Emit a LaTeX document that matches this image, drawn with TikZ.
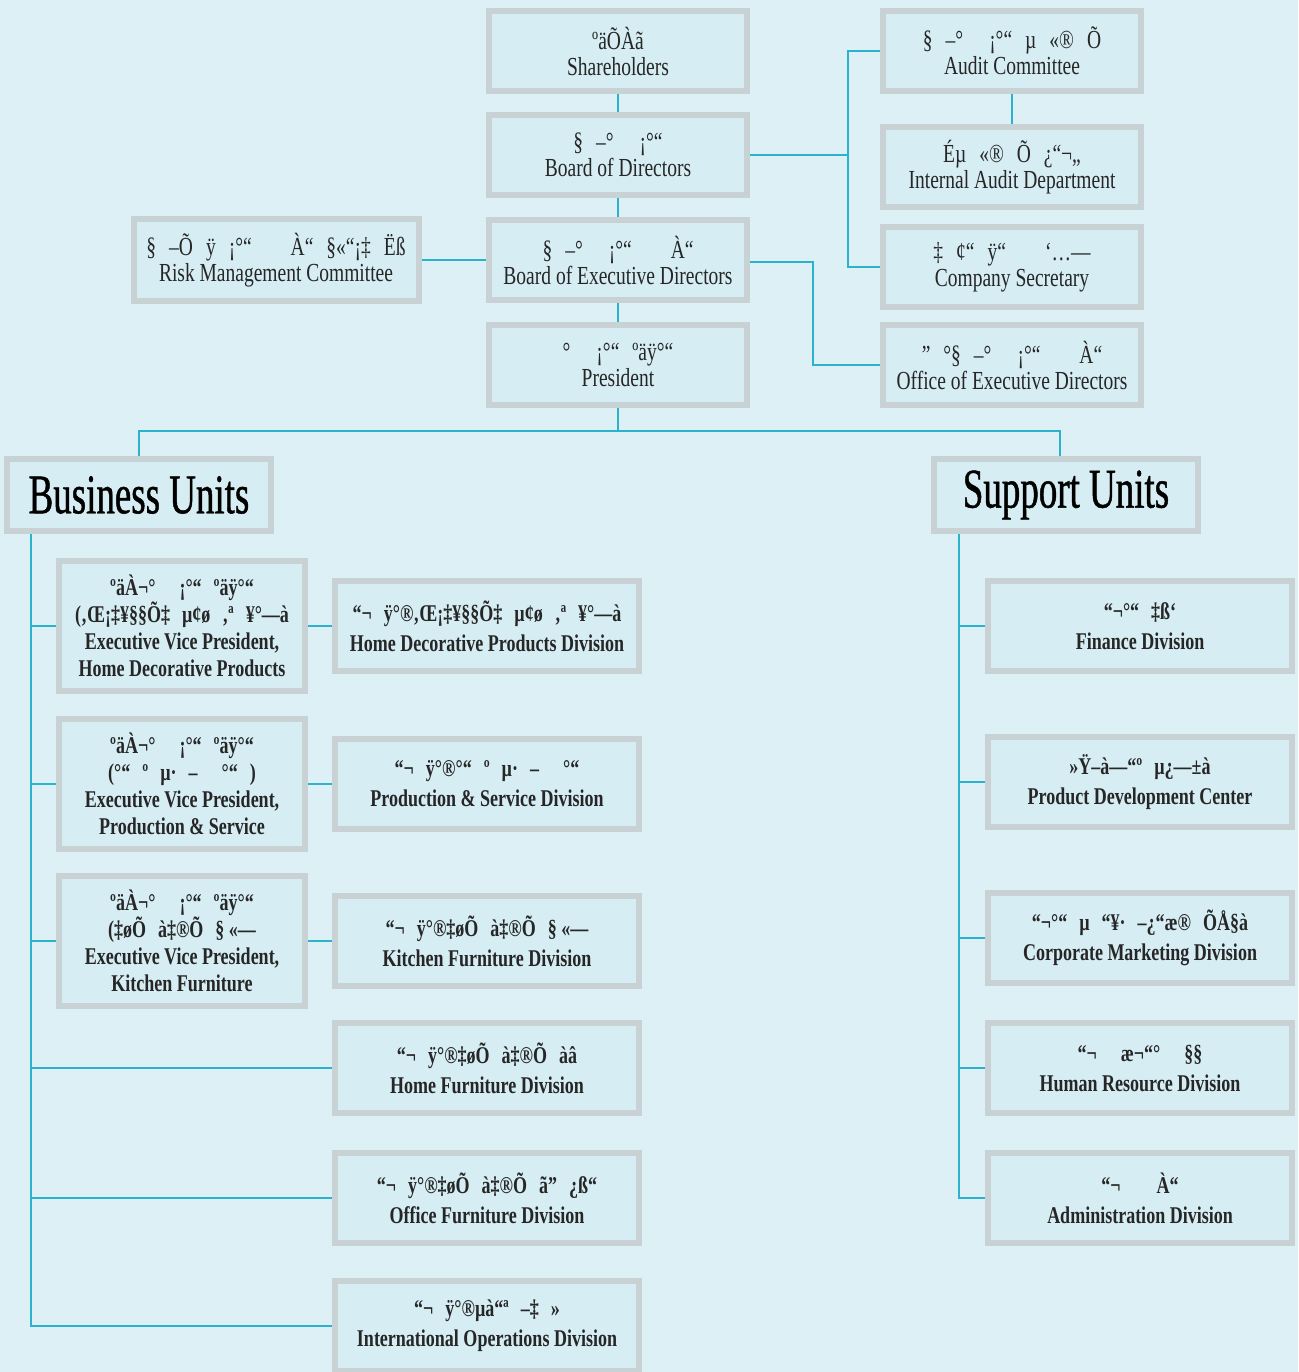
\documentclass[tikz,border=0pt]{standalone}
\usepackage{fontspec}
\setmainfont[FakeStretch=0.75]{Liberation Serif}
\newfontfamily\headfont[FakeStretch=0.66,FakeBold=0.8]{Liberation Serif}
\definecolor{bgc}{HTML}{DDF0F5}
\definecolor{boxfill}{HTML}{D5EDF3}
\definecolor{boxedge}{HTML}{C8D2D5}
\definecolor{connc}{HTML}{2BB3CD}
\definecolor{txtc}{HTML}{262626}
\newcommand\gp{\hspace{0.5em}}
\tikzset{
  box/.style={draw=boxedge, line width=6pt, fill=boxfill, align=center, inner sep=0pt, outer sep=3pt, text=txtc, font=\fontsize{26}{26}\selectfont},
  topbox/.style={box, minimum width=258, minimum height=80},
  riskbox/.style={box, minimum width=285, minimum height=81},
  evpbox/.style={box, minimum width=246, minimum height=130, font=\bfseries\fontsize{24}{27}\selectfont},
  divbox/.style={box, minimum width=304, minimum height=90, font=\bfseries\fontsize{24}{30}\selectfont},
  unitbox/.style={box, minimum width=264, minimum height=72, font=\headfont\fontsize{56}{60}\selectfont, text=black},
  conn/.style={draw=connc, line width=1.5pt},
}
\begin{document}
\begin{tikzpicture}[x=1pt,y=-1pt]
\fill[bgc] (0,0) rectangle (1298,1372);
\useasboundingbox (0,0) rectangle (1298,1372);

% top column
\node[topbox] (sh) at (618,51) {ºäÕÀã\\Shareholders};
\node[topbox] (bod) at (618,155) {§\gp –°\gp\gp ¡°“\\Board of Directors};
\node[topbox] (bed) at (618,260) {§\gp –°\gp\gp ¡°“\gp\gp\gp À“\\Board of Executive Directors};
\node[topbox] (pres) at (618,365) {°\gp\gp ¡°“\gp ºäÿ°“\\President};
\node[riskbox] (risk) at (276,260) {§\gp –Õ\gp ÿ\gp ¡°“\gp\gp\gp À“\gp §«“¡‡\gp Ëß\\Risk Management Committee};

% right column
\node[topbox] (ac) at (1012,51) {§\gp –°\gp\gp ¡°“\gp µ\gp «®\gp Õ\\Audit Committee};
\node[topbox] (iad) at (1012,167) {Éµ\gp «®\gp Õ\gp ¿“¬„\\Internal Audit Department};
\node[topbox] (cs) at (1012,267) {‡\gp ¢“\gp ÿ“\gp\gp\gp ‘…—\\Company Secretary};
\node[topbox] (ofe) at (1012,365) {”\gp °§\gp –°\gp\gp ¡°“\gp\gp\gp À“\\Office of Executive Directors};

% unit headers
\node[unitbox] (bu) at (139,495) {Business Units};
\node[unitbox] (su) at (1066,495) {Support Units};

% business units
\node[evpbox] (evp1) at (182,626) {ºäÀ¬°\gp\gp ¡°“\gp ºäÿ°“\\(‚Œ¡‡¥§§Õ‡\gp µ¢ø\gp ‚ª\gp ¥°—à\\Executive Vice President,\\Home Decorative Products};
\node[evpbox] (evp2) at (182,784) {ºäÀ¬°\gp\gp ¡°“\gp ºäÿ°“\\(°“\gp º\gp µ·\gp –\gp\gp °“\gp )\\Executive Vice President,\\Production \& Service};
\node[evpbox] (evp3) at (182,941) {ºäÀ¬°\gp\gp ¡°“\gp ºäÿ°“\\(‡øÕ\gp à‡®Õ\gp § «—\\Executive Vice President,\\Kitchen Furniture};

\node[divbox] (hdp) at (487,626) {“¬\gp ÿ°®‚Œ¡‡¥§§Õ‡\gp µ¢ø\gp ‚ª\gp ¥°—à\\Home Decorative Products Division};
\node[divbox] (psd) at (487,784) {“¬\gp ÿ°®°“\gp º\gp µ·\gp –\gp\gp °“\\Production \& Service Division};
\node[divbox] (kfd) at (487,941) {“¬\gp ÿ°®‡øÕ\gp à‡®Õ\gp § «—\\Kitchen Furniture Division};
\node[divbox] (hfd) at (487,1068) {“¬\gp ÿ°®‡øÕ\gp à‡®Õ\gp àâ\\Home Furniture Division};
\node[divbox] (ofd) at (487,1198) {“¬\gp ÿ°®‡øÕ\gp à‡®Õ\gp ã”\gp ¿ß“\\Office Furniture Division};
\node[divbox] (iod) at (487,1326) {“¬\gp ÿ°®µà“ª\gp –‡\gp »\\International Operations Division};

% support units
\node[divbox] (fin) at (1140,626) {“¬°“\gp ‡ß‘\\Finance Division};
\node[divbox] (pdc) at (1140,782) {»Ÿ–à—“º\gp µ¿—±à\\Product Development Center};
\node[divbox] (cmd) at (1140,938) {“¬°“\gp µ\gp “¥·\gp –¿“æ®\gp ÕÅ§à\\Corporate Marketing Division};
\node[divbox] (hrd) at (1140,1068) {“¬\gp\gp æ¬“°\gp\gp §§\\Human Resource Division};
\node[divbox] (adm) at (1140,1198) {“¬\gp\gp\gp À“\\Administration Division};

% connectors: top
\draw[conn] (sh.south) -- (bod.north);
\draw[conn] (bod.south) -- (bed.north);
\draw[conn] (bed.south) -- (pres.north);
\coordinate (hb) at (618,431);
\draw[conn] (pres.south) -- (hb);
\draw[conn] (bu.north) |- (hb) -| ([xshift=-6]su.north);
\coordinate (jv) at (848,155);
\draw[conn] (bod.east) -- (jv);
\draw[conn] (ac.west) -| (jv) |- (cs.west);
\draw[conn] (ac.south) -- (iad.north);
\coordinate (jo) at (813,262);
\draw[conn] (bed.east |- jo) -- (jo) |- (ofe.west);
\draw[conn] (risk.east) -- (risk.east -| bed.west);

% business trunk
\coordinate (btop) at (31,534);
\draw[conn] (btop) |- (iod.west);
\draw[conn] (evp1.west) -- (evp1.west -| btop);
\draw[conn] (evp2.west) -- (evp2.west -| btop);
\draw[conn] (evp3.west) -- (evp3.west -| btop);
\draw[conn] (hfd.west) -- (hfd.west -| btop);
\draw[conn] (ofd.west) -- (ofd.west -| btop);
\draw[conn] (evp1.east) -- (evp1.east -| hdp.west);
\draw[conn] (evp2.east) -- (evp2.east -| psd.west);
\draw[conn] (evp3.east) -- (evp3.east -| kfd.west);

% support trunk
\coordinate (stop) at (959,534);
\draw[conn] (stop) |- (adm.west);
\draw[conn] (fin.west) -- (fin.west -| stop);
\draw[conn] (pdc.west) -- (pdc.west -| stop);
\draw[conn] (cmd.west) -- (cmd.west -| stop);
\draw[conn] (hrd.west) -- (hrd.west -| stop);
\end{tikzpicture}
\end{document}
